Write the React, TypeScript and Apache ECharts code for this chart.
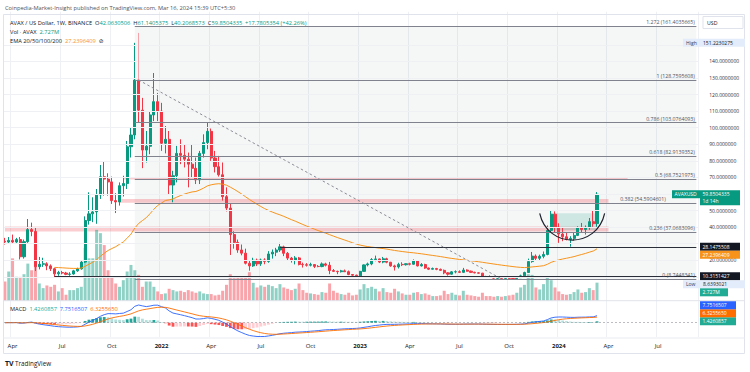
import React, { useEffect, useRef } from 'react';
import * as echarts from 'echarts';

const UP = '#089981';
const DOWN = '#f23645';
const FONT = '"Open Sans", "Noto Sans", "DejaVu Sans", sans-serif';

// weekly slots on the time scale (first visible weekly bar and slot count up to Sep 2024)
const FIRST_WEEK_UTC = [2021, 2, 22];
const WEEK_SLOTS = 182;

// [open, high, low, close] weekly candles, AVAX/USD from 2021-03-22 to 2024-03-11
const CANDLES: number[][] = [
  [31.5, 33.5, 29.5, 31.0], [31.0, 34.0, 30.0, 32.0], [32.0, 35.5, 29.8, 31.0], [31.0, 33.5, 30.0, 32.5],
  [32.5, 34.0, 20.5, 22.1], [22.1, 32.5, 21.0, 31.2], [31.2, 44.9, 30.5, 38.5], [38.5, 42.7, 34.5, 37.4],
  [37.4, 39.5, 13.5, 16.1], [16.1, 22.0, 14.5, 17.6], [17.6, 21.5, 16.0, 17.9], [17.9, 18.8, 14.0, 16.6],
  [16.6, 17.5, 13.5, 14.9], [14.9, 15.5, 9.6, 11.8], [11.8, 13.6, 10.6, 12.6], [12.6, 13.6, 11.5, 12.3],
  [12.3, 13.0, 11.0, 11.5], [11.5, 12.8, 10.6, 11.7], [11.7, 14.2, 11.3, 13.6], [13.6, 15.5, 13.0, 14.8],
  [14.8, 20.0, 14.3, 18.9], [18.9, 46.5, 18.4, 44.0], [44.0, 61.0, 41.5, 48.0], [48.0, 58.0, 43.0, 49.2],
  [49.2, 63.0, 42.0, 59.4], [59.4, 77.5, 57.0, 70.4], [70.4, 79.5, 59.0, 69.0], [69.0, 72.5, 59.0, 67.3],
  [67.3, 70.5, 54.0, 56.0], [56.0, 60.5, 48.5, 55.2], [55.2, 67.0, 53.0, 65.0], [65.0, 71.0, 58.5, 66.3],
  [66.3, 92.0, 63.0, 88.5], [88.5, 100.0, 82.0, 95.6], [95.6, 151.22, 93.0, 128.76], [128.76, 138.0, 103.0, 110.6],
  [110.6, 118.0, 75.6, 86.5], [86.5, 98.0, 79.0, 88.8], [88.8, 110.0, 84.0, 107.7], [107.7, 133.0, 104.0, 115.7],
  [115.7, 121.0, 104.0, 110.0], [110.0, 115.0, 86.0, 90.6], [90.6, 101.0, 84.5, 93.0], [93.0, 98.0, 60.0, 65.4],
  [65.4, 74.0, 55.0, 71.0], [71.0, 89.0, 67.0, 84.5], [84.5, 93.0, 78.0, 83.3], [83.3, 90.0, 76.0, 81.0],
  [81.0, 85.0, 64.0, 78.0], [78.0, 90.0, 70.0, 75.5], [75.5, 82.0, 66.0, 68.5], [68.5, 86.0, 66.0, 84.5],
  [84.5, 96.0, 82.0, 91.0], [91.0, 103.0, 87.0, 97.8], [97.8, 99.5, 80.0, 81.7], [81.7, 86.0, 73.0, 76.5],
  [76.5, 83.0, 70.5, 71.6], [71.6, 79.0, 56.0, 58.4], [58.4, 64.0, 49.5, 51.5], [51.5, 54.0, 23.2, 35.5],
  [35.5, 37.5, 27.0, 30.8], [30.8, 32.5, 24.5, 26.2], [26.2, 29.5, 23.0, 24.3], [24.3, 27.0, 17.5, 18.2],
  [18.2, 19.8, 13.7, 16.6], [16.6, 21.5, 16.0, 20.0], [20.0, 21.0, 16.5, 17.8], [17.8, 21.0, 16.6, 20.2],
  [20.2, 21.2, 17.6, 19.3], [19.3, 25.5, 18.5, 23.8], [23.8, 26.5, 21.0, 24.9], [24.9, 27.5, 22.5, 26.2],
  [26.2, 30.5, 25.0, 28.1], [28.1, 28.8, 22.5, 24.2], [24.2, 25.0, 20.0, 21.3], [21.3, 22.0, 18.6, 20.0],
  [20.0, 22.5, 17.5, 21.4], [21.4, 22.0, 16.9, 17.5], [17.5, 18.6, 15.6, 17.3], [17.3, 18.3, 16.2, 17.0],
  [17.0, 18.5, 16.3, 17.4], [17.4, 17.7, 15.3, 16.3], [16.3, 17.1, 15.8, 16.2], [16.2, 18.7, 15.8, 17.8],
  [17.8, 18.5, 16.3, 17.0], [17.0, 19.0, 11.6, 13.8], [13.8, 14.7, 12.9, 13.3], [13.3, 13.7, 11.6, 13.1],
  [13.1, 14.2, 12.6, 13.6], [13.6, 14.4, 12.9, 13.1], [13.1, 13.8, 11.0, 11.4], [11.4, 11.7, 10.6, 11.0],
  [11.0, 11.3, 10.2, 10.6], [10.6, 13.6, 10.4, 13.3], [13.3, 17.5, 13.0, 17.2], [17.2, 18.6, 16.3, 17.8],
  [17.8, 21.3, 17.0, 20.4], [20.4, 22.8, 19.4, 20.8], [20.8, 21.0, 18.3, 18.9], [18.9, 22.0, 18.2, 20.9],
  [20.9, 21.5, 18.2, 18.8], [18.8, 19.0, 16.1, 16.6], [16.6, 17.3, 13.8, 16.0], [16.0, 18.5, 15.0, 17.5],
  [17.5, 18.8, 16.5, 17.3], [17.3, 18.2, 16.8, 17.9], [17.9, 18.5, 16.9, 17.6], [17.6, 20.5, 17.3, 19.6],
  [19.6, 20.1, 16.3, 16.6], [16.6, 18.3, 16.2, 17.4], [17.4, 17.9, 14.8, 15.3], [15.3, 15.6, 14.1, 14.6],
  [14.6, 15.6, 14.4, 15.0], [15.0, 15.4, 14.0, 14.5], [14.5, 15.0, 13.6, 13.9], [13.9, 14.4, 11.6, 12.4],
  [12.4, 12.8, 10.7, 11.6], [11.6, 13.5, 11.4, 13.0], [13.0, 13.9, 12.1, 13.1], [13.1, 13.9, 12.3, 12.7],
  [12.7, 15.4, 12.3, 14.1], [14.1, 14.5, 13.1, 13.4], [13.4, 13.8, 12.3, 12.7], [12.7, 13.1, 12.1, 12.4],
  [12.4, 12.8, 12.0, 12.2], [12.2, 12.4, 9.9, 10.2], [10.2, 10.6, 9.8, 10.0], [10.0, 10.9, 9.5, 9.6],
  [9.6, 9.8, 8.9, 9.2], [9.2, 9.5, 8.7, 9.3], [9.3, 9.6, 8.9, 9.1], [9.1, 9.7, 8.9, 9.4],
  [9.4, 9.6, 8.9, 9.1], [9.1, 9.3, 8.64, 8.9], [8.9, 9.9, 8.8, 9.5], [9.5, 11.3, 9.3, 10.6],
  [10.6, 13.1, 10.2, 12.6], [12.6, 21.0, 12.4, 19.2], [19.2, 25.0, 18.5, 22.5], [22.5, 23.5, 19.6, 21.2],
  [21.2, 23.4, 20.0, 22.4], [22.4, 25.3, 21.2, 23.5], [23.5, 41.0, 23.0, 38.0], [38.0, 50.0, 37.0, 47.8],
  [47.8, 49.5, 36.5, 40.0], [40.0, 42.3, 30.5, 35.8], [35.8, 39.5, 31.5, 34.2], [34.2, 37.0, 32.0, 32.6],
  [32.6, 34.5, 28.2, 33.2], [33.2, 36.5, 31.8, 35.0], [35.0, 40.5, 34.6, 39.5], [39.5, 42.5, 36.5, 38.6],
  [38.6, 41.0, 35.5, 39.8], [39.8, 45.5, 38.4, 43.3], [43.3, 50.2, 40.2, 42.06],
  [42.0630506, 61.1405375, 40.2068573, 59.8504335],
];

// weekly volume, millions of AVAX
const VOLUME_M: number[] = [
  2.9, 4.4, 6.4, 3.6, 3.6, 4.0, 5.6, 4.6, 6.1, 2.6,
  1.9, 2.3, 2.1, 2.4, 1.4, 1.9, 0.9, 1.6, 1.6, 1.9,
  2.1, 8.0, 6.4, 6.4, 10.7, 10.2, 8.4, 4.6, 3.6, 2.6,
  2.1, 3.1, 4.4, 5.4, 4.6, 3.9, 2.1, 2.9, 2.9, 2.1,
  1.4, 1.0, 1.1, 1.8, 1.6, 1.4, 1.5, 1.3, 1.6, 1.4,
  1.2, 1.4, 1.1, 1.0, 1.0, 0.8, 0.9, 1.5, 2.4, 4.0,
  3.4, 3.5, 3.6, 3.7, 4.3, 2.7, 2.0, 2.3, 2.1, 2.4,
  2.2, 1.9, 2.5, 2.0, 1.8, 1.6, 1.8, 2.6, 1.6, 1.2,
  1.1, 1.0, 0.9, 1.3, 1.2, 2.6, 1.5, 1.2, 1.0, 0.9,
  1.2, 0.8, 0.9, 1.7, 2.5, 1.9, 2.1, 1.8, 1.4, 1.9,
  1.3, 1.2, 1.8, 1.4, 1.1, 0.9, 0.9, 1.2, 1.3, 1.0,
  1.1, 0.9, 0.7, 0.7, 0.8, 1.5, 1.0, 1.2, 0.9, 0.8,
  1.5, 0.9, 0.8, 0.7, 0.6, 1.2, 0.7, 0.7, 0.6, 0.7,
  0.6, 0.7, 0.8, 0.9, 1.2, 2.0, 2.4, 4.0, 3.9, 2.0,
  1.7, 2.5, 3.7, 3.1, 2.0, 1.4, 1.0, 0.9, 1.0, 1.3,
  1.7, 1.2, 1.3, 1.9, 1.6, 2.727,
];

// time-scale tick labels: [week start date, label]
const TICK_LABELS: [string, string][] = [
  ['2021-04-05', 'Apr'], ['2021-07-05', 'Jul'], ['2021-10-04', 'Oct'], ['2022-01-03', '2022'],
  ['2022-04-04', 'Apr'], ['2022-07-04', 'Jul'], ['2022-10-03', 'Oct'], ['2023-01-02', '2023'],
  ['2023-04-03', 'Apr'], ['2023-07-03', 'Jul'], ['2023-10-02', 'Oct'], ['2024-01-01', '2024'],
  ['2024-04-01', 'Apr'], ['2024-07-01', 'Jul'],
];

// price grid levels and the price-scale labels left visible (others sit under tags)
const PRICE_GRID = [10, 20, 30, 40, 50, 60, 70, 80, 90, 100, 110, 120, 130, 140, 150];
const PRICE_LABELS = [20, 40, 50, 70, 80, 90, 100, 110, 120, 130, 140];

// Fibonacci retracement drawn from the Nov-2021 top to the Oct-2023 low
const FIB_LEVELS: [string, number][] = [
  ['1.272', 161.4035665], ['1', 128.7595608], ['0.786', 103.0764093], ['0.618', 82.9139352],
  ['0.5', 68.7521975], ['0.382', 54.5904601], ['0.236', 37.0683096], ['0', 8.7448341],
];
const FIB_WEEKS = [34, 181];
const FIB_TREND: [number, number][] = [[35, 128.7595608], [130, 8.7448341]];
const TOP_MARK: [number, number][] = [[35, 157.2], [35, 129.0]];

// horizontal support / resistance zones: [fromWeek, toWeek, low, high]
const ZONES: number[][] = [
  [31, 163, 68.8, 70.3],
  [30, 158, 54.7, 57.0],
  [0, 158, 37.4, 40.4],
];
// horizontal price lines: [fromWeek, price]
const LEVELS: number[][] = [[72, 28.1475508], [13, 10.3151427]];

// cup pattern drawing
const CUP_BOX = [143, 155, 38.3, 48.4];
const CUP_ARC = { from: 140, to: 157, mid: 148, rim: 48.3, bottom: 32.2 };

// indicator settings and legend values
const EMA_PERIOD = 50;
const EMA_START = 13;
const EMA_SEED = 15.7;
const EMA_LAST_TEXT = '27.2396409';
const EMA_LAST = 27.2396409;
const MACD_TEXT = { hist: '1.4260857', macd: '7.7516507', signal: '6.3255650' };
const LAST_PRICE = 59.8504335;
const HIGH_PRICE = 151.2230275;
const LOW_PRICE = 8.6393021;
const LAST_VOL_M = 2.727;

const CAT_W = 3.82;
const LEFT = 3;
const PLOT_W = WEEK_SLOTS * CAT_W;

function buildWeeks(): string[] {
  const t0 = Date.UTC(FIRST_WEEK_UTC[0], FIRST_WEEK_UTC[1], FIRST_WEEK_UTC[2]);
  const out: string[] = [];
  for (let i = 0; i < WEEK_SLOTS; i++) out.push(new Date(t0 + i * 7 * 86400000).toISOString().slice(0, 10));
  return out;
}

function computeIndicators() {
  const closes = CANDLES.map((c) => c[3]);
  const a = 2 / (EMA_PERIOD + 1);
  const ema: any[] = closes.map(() => '-');
  let e = EMA_SEED;
  for (let i = EMA_START; i < closes.length; i++) {
    e = i === EMA_START ? EMA_SEED : a * closes[i] + (1 - a) * e;
    ema[i] = e;
  }
  const a12 = 2 / 13, a26 = 2 / 27, a9 = 2 / 10;
  let e12 = closes[0], e26 = closes[0], sig = 0;
  const macd: number[] = [], signal: number[] = [], hist: number[] = [];
  for (let i = 0; i < closes.length; i++) {
    if (i > 0) {
      e12 = a12 * closes[i] + (1 - a12) * e12;
      e26 = a26 * closes[i] + (1 - a26) * e26;
    }
    const m = e12 - e26;
    sig = i === 0 ? m : a9 * m + (1 - a9) * sig;
    macd.push(m);
    signal.push(sig);
    hist.push(m - sig);
  }
  return { ema, macd, signal, hist };
}

function buildOption(weeks: string[], ind: any, macdRange: number[]) {
  const tickIdx = new Map<number, string>();
  TICK_LABELS.forEach(([d, l]) => {
    const k = weeks.indexOf(d);
    if (k >= 0) tickIdx.set(k, l);
  });
  const isTick = (i: number) => tickIdx.has(i);
  const baseX = (gridIndex: number) => ({
    type: 'category', gridIndex, data: weeks, boundaryGap: true,
    axisLine: { show: false }, axisTick: { show: false }, axisLabel: { show: false },
    splitLine: { show: false },
  });
  const vgrid = { show: true, interval: (i: number) => isTick(i), lineStyle: { color: '#eef0f4', width: 1 } };

  const fibLines = FIB_LEVELS.map(([lvl, p]) => [
    {
      coord: [FIB_WEEKS[0], p],
      lineStyle: { color: '#80838d', width: 1, type: 'solid' },
      label: {
        show: true, position: 'insideEndTop', distance: 1.5, formatter: `${lvl} (${p.toFixed(7)})`,
        fontSize: 5.2, color: '#50535e', fontFamily: FONT,
        // the 0.382 caption is moved left of the last-price tag
        padding: lvl === '0.382' ? [0, 29, 0, 0] : 0,
      },
    },
    { coord: [FIB_WEEKS[1], p] },
  ]);
  const levelLines = LEVELS.map(([w, p]) => [
    { coord: [w, p], lineStyle: { color: '#2a2e39', width: 1.1, type: 'solid' }, label: { show: false } },
    { coord: [FIB_WEEKS[1], p] },
  ]);
  const gridLines = PRICE_GRID.map((v) => ({ yAxis: v, lineStyle: { color: '#eef0f4', width: 1, type: 'solid' }, label: { show: false } }));

  const candleData = CANDLES.map(([o, h, l, c]) => [o, c, l, h]);
  const volData = VOLUME_M.map((v, i) => ({
    value: v,
    itemStyle: { color: CANDLES[i][3] >= CANDLES[i][0] ? 'rgba(8,153,129,0.45)' : 'rgba(242,54,69,0.45)' },
  }));
  const histData = ind.hist.map((h: number, i: number) => {
    const prev = i > 0 ? ind.hist[i - 1] : 0;
    const color = h >= 0 ? (h > prev ? '#26a69a' : '#b2dfdb') : (h > prev ? '#ffcdd2' : '#ff5252');
    return { value: h, itemStyle: { color } };
  });

  return {
    animation: false,
    backgroundColor: '#ffffff',
    grid: [
      { left: LEFT, width: PLOT_W, top: 11.71, height: 298.26 },
      { left: LEFT, width: PLOT_W, top: 210.7, height: 90 },
      { left: LEFT, width: PLOT_W, top: 301, height: 36 },
    ],
    xAxis: [
      { ...baseX(0), splitLine: vgrid },
      { ...baseX(1) },
      {
        ...baseX(2),
        splitLine: vgrid,
        axisLabel: {
          show: true, interval: (i: number) => isTick(i), margin: 6,
          fontSize: 6, color: '#131722', fontFamily: FONT,
          formatter: (_v: string, i: number) => {
            const t = tickIdx.get(i) || '';
            return /^\d{4}$/.test(t) ? `{y|${t}}` : t;
          },
          rich: { y: { fontWeight: 'bold', fontSize: 6, color: '#131722', fontFamily: FONT } },
        },
      },
    ],
    yAxis: [
      {
        type: 'value', gridIndex: 0, position: 'right', min: -10, max: 170, interval: 10,
        axisLine: { show: false }, axisTick: { show: false }, splitLine: { show: false },
        axisLabel: {
          show: true, margin: 11, fontSize: 5, color: '#2a2e39', fontFamily: FONT,
          formatter: (v: number) => (PRICE_LABELS.indexOf(Math.round(v)) >= 0 ? v.toFixed(7) : ''),
        },
      },
      { type: 'value', gridIndex: 1, min: 0, max: 13.59, show: false },
      { type: 'value', gridIndex: 2, min: macdRange[0], max: macdRange[1], show: false },
    ],
    series: [
      {
        name: 'areas', type: 'line', xAxisIndex: 0, yAxisIndex: 0, data: [], z: 0, silent: true,
        markArea: {
          silent: true,
          data: [
            [{ xAxis: FIB_WEEKS[0], yAxis: FIB_LEVELS[7][1], itemStyle: { color: 'rgba(120,123,134,0.07)' } },
              { xAxis: FIB_WEEKS[1], yAxis: FIB_LEVELS[0][1] }],
            ...ZONES.map(([f, t, lo, hi]) => [
              { xAxis: f, yAxis: lo, itemStyle: { color: 'rgba(242,54,69,0.25)' } },
              { xAxis: t, yAxis: hi },
            ]),
            [{ xAxis: CUP_BOX[0], yAxis: CUP_BOX[2], itemStyle: { color: 'rgba(8,153,129,0.16)' } },
              { xAxis: CUP_BOX[1], yAxis: CUP_BOX[3] }],
          ],
        },
      },
      {
        name: 'volume', type: 'bar', xAxisIndex: 1, yAxisIndex: 1, data: volData, barWidth: 3, z: 1, silent: true,
      },
      {
        name: 'lines', type: 'line', xAxisIndex: 0, yAxisIndex: 0, data: [], z: 2, silent: true,
        markLine: {
          silent: true, symbol: ['none', 'none'], animation: false,
          data: [
            ...gridLines,
            ...fibLines,
            ...levelLines,
            [{ coord: FIB_TREND[0], lineStyle: { color: '#8a8d96', width: 1, type: [2.5, 2.5] }, label: { show: false } },
              { coord: FIB_TREND[1] }],
            [{ coord: TOP_MARK[0], lineStyle: { color: '#f5a3aa', width: 1, type: 'solid' }, label: { show: false } },
              { coord: TOP_MARK[1] }],
          ],
        },
      },
      {
        name: 'AVAXUSD', type: 'candlestick', xAxisIndex: 0, yAxisIndex: 0, data: candleData, barWidth: 2.6, z: 3,
        itemStyle: { color: UP, color0: DOWN, borderColor: UP, borderColor0: DOWN, borderWidth: 1 },
      },
      {
        name: 'EMA', type: 'line', xAxisIndex: 0, yAxisIndex: 0, data: ind.ema, z: 4, showSymbol: false,
        symbol: 'none', lineStyle: { color: '#f7931a', width: 1 }, silent: true,
      },
      {
        name: 'Histogram', type: 'bar', xAxisIndex: 2, yAxisIndex: 2, data: histData, barWidth: 2.8, z: 1, silent: true,
      },
      {
        name: 'MACD', type: 'line', xAxisIndex: 2, yAxisIndex: 2, data: ind.macd, z: 2, symbol: 'none',
        lineStyle: { color: '#2962ff', width: 0.9 }, silent: true,
        markLine: {
          silent: true, symbol: ['none', 'none'],
          data: [{ yAxis: 0, lineStyle: { color: 'rgba(120,123,134,0.5)', type: [2, 2], width: 1 }, label: { show: false } }],
        },
      },
      {
        name: 'Signal', type: 'line', xAxisIndex: 2, yAxisIndex: 2, data: ind.signal, z: 2, symbol: 'none',
        lineStyle: { color: '#ff6d00', width: 0.9 }, silent: true,
      },
    ],
  };
}

function buildGraphic(chart: any, ind: any) {
  const P = (g: number, x: number, y: number) => chart.convertToPixel({ gridIndex: g }, [x, y]);
  const els: any[] = [];
  const text = (x: number, y: number, t: string, extra: any = {}) => ({
    type: 'text', x, y, z: 120, silent: true,
    style: { text: t, fill: '#131722', fontSize: 5.7, fontFamily: FONT, verticalAlign: 'middle', ...extra },
  });
  const tag = (x: number, yc: number, t: string, bg: string, w?: number, fg = '#ffffff') => [
    { type: 'rect', z: 110, silent: true, shape: { x, y: yc - 4, width: w ?? t.length * 3.05 + 6, height: 8 }, style: { fill: bg } },
    text(x + 2.5, yc, t, { fill: fg, fontSize: 5 }),
  ];

  // frame and pane separators
  els.push({ type: 'rect', z: 90, silent: true, shape: { x: 3.5, y: 14.5, width: 741, height: 339 }, style: { fill: 'none', stroke: '#e0e3eb', lineWidth: 1 } });
  els.push({ type: 'line', z: 90, silent: true, shape: { x1: 3.5, y1: 300.7, x2: 744.5, y2: 300.7 }, style: { stroke: '#e0e3eb', lineWidth: 1 } });
  els.push({ type: 'line', z: 90, silent: true, shape: { x1: 3.5, y1: 338, x2: 744.5, y2: 338 }, style: { stroke: '#e9ebf0', lineWidth: 1 } });

  // header and legends
  els.push(text(5, 8, 'Coinpedia-Market-Insight published on TradingView.com, Mar 16, 2024 15:39 UTC+5:30', { fill: '#50535e' }));
  els.push(text(10, 22.7, '{t|AVAX / US Dollar, 1W, BINANCE}  {t|O}{v|42.0630506}  {t|H}{v|61.1405375}  {t|L}{v|40.2068573}  {t|C}{v|59.8504335}  {v|+17.7805354 (+42.26%)}', {
    rich: { t: { fill: '#131722', fontSize: 5.7, fontFamily: FONT }, v: { fill: UP, fontSize: 5.7, fontFamily: FONT } },
  }));
  els.push(text(10, 31.7, '{t|Vol · AVAX}  {v|2.727M}', {
    rich: { t: { fill: '#131722', fontSize: 5.7, fontFamily: FONT }, v: { fill: UP, fontSize: 5.7, fontFamily: FONT } },
  }));
  els.push(text(10, 40.7, `{t|EMA 20/50/100/200}  {o|${EMA_LAST_TEXT}}  {t|⊘}`, {
    rich: { t: { fill: '#131722', fontSize: 5.7, fontFamily: FONT }, o: { fill: '#f7931a', fontSize: 5.7, fontFamily: FONT } },
  }));
  els.push(text(10, 309, `{t|MACD}  {g|${MACD_TEXT.hist}}  {b|${MACD_TEXT.macd}}  {o|${MACD_TEXT.signal}}`, {
    rich: {
      t: { fill: '#131722', fontSize: 5.7, fontFamily: FONT }, g: { fill: '#22ab94', fontSize: 5.7, fontFamily: FONT },
      b: { fill: '#2962ff', fontSize: 5.7, fontFamily: FONT }, o: { fill: '#ff6d00', fontSize: 5.7, fontFamily: FONT },
    },
  }));
  els.push(text(5, 363, '{b|TV} {t|TradingView}', {
    rich: { b: { fill: '#131722', fontSize: 7, fontWeight: 'bold', fontFamily: FONT }, t: { fill: '#131722', fontSize: 6.3, fontFamily: FONT } },
  }));

  // cup arc
  const last = CANDLES.length - 1;
  const s = P(0, CUP_ARC.from, CUP_ARC.rim);
  const e = P(0, CUP_ARC.to, CUP_ARC.rim);
  const b = P(0, CUP_ARC.mid, CUP_ARC.bottom);
  const cy = s[1] + (b[1] - s[1]) * 4 / 3;
  const dx = (e[0] - s[0]) * 0.12;
  els.push({
    type: 'bezierCurve', z: 50, silent: true,
    shape: { x1: s[0], y1: s[1], x2: e[0], y2: e[1], cpx1: s[0] + dx, cpy1: cy, cpx2: e[0] - dx, cpy2: cy },
    style: { stroke: '#1e222d', lineWidth: 1.2, fill: 'none' },
  });

  // price scale: USD box
  els.push({ type: 'rect', z: 110, silent: true, shape: { x: 703, y: 16.5, width: 40, height: 12 }, style: { fill: '#ffffff', stroke: '#e0e3eb', lineWidth: 1 } });
  els.push(text(707, 22.5, 'USD', { fontSize: 5.2 }));

  // High / Low markers
  const hiY = P(0, last, HIGH_PRICE)[1];
  els.push({ type: 'rect', z: 110, silent: true, shape: { x: 683, y: hiY - 4, width: 62, height: 8 }, style: { fill: '#e3ecfa' } });
  els.push(text(686, hiY, 'High', { fontSize: 5, fill: '#2a3f6b' }));
  els.push(text(703, hiY, HIGH_PRICE.toFixed(7), { fontSize: 5, fill: '#131722' }));

  // last price tag
  const lpY = P(0, last, LAST_PRICE)[1];
  els.push(...tag(672, lpY, 'AVAXUSD', UP, 28));
  els.push({ type: 'rect', z: 110, silent: true, shape: { x: 700, y: lpY - 4, width: 40, height: 15 }, style: { fill: UP } });
  els.push(text(702.5, lpY, LAST_PRICE.toFixed(7), { fill: '#fff', fontSize: 5 }));
  els.push(text(702.5, lpY + 6.8, '1d 14h', { fill: '#fff', fontSize: 5 }));

  // stacked tags in price pane (pushed downward)
  const lowTag = { y: P(0, last, LOW_PRICE)[1], kind: 'low' };
  const stack: any[] = [
    { y: P(0, last, LEVELS[0][1])[1], t: LEVELS[0][1].toFixed(7), bg: '#131722' },
    { y: P(0, last, EMA_LAST)[1], t: EMA_LAST_TEXT, bg: '#f7931a' },
    { y: P(0, last, LEVELS[1][1])[1], t: LEVELS[1][1].toFixed(7), bg: '#131722' },
    lowTag,
    { y: P(1, last, LAST_VOL_M)[1], t: `${LAST_VOL_M}M`, bg: '#22ab94', w: 28 },
  ].sort((a, b2) => a.y - b2.y);
  let bottom = -Infinity;
  stack.forEach((tg) => {
    const top = Math.max(tg.y - 4, bottom);
    const yc = top + 4;
    bottom = top + 8;
    if (tg.kind === 'low') {
      els.push({ type: 'rect', z: 110, silent: true, shape: { x: 683, y: top, width: 62, height: 8 }, style: { fill: '#e3ecfa' } });
      els.push(text(686, yc, 'Low', { fontSize: 5, fill: '#2a3f6b' }));
      els.push(text(703, yc, LOW_PRICE.toFixed(7), { fontSize: 5, fill: '#131722' }));
    } else {
      els.push(...tag(700, yc, tg.t, tg.bg, tg.w ?? 40));
    }
  });

  // MACD pane tags (pushed upward)
  const mstack = [
    { y: P(2, last, ind.hist[last])[1], t: MACD_TEXT.hist, bg: '#22ab94' },
    { y: P(2, last, ind.signal[last])[1], t: MACD_TEXT.signal, bg: '#ff6d00' },
    { y: P(2, last, ind.macd[last])[1], t: MACD_TEXT.macd, bg: '#2962ff' },
  ];
  let topLimit = 330;
  mstack.forEach((tg) => {
    const b2 = Math.min(tg.y + 4, topLimit);
    const yc = b2 - 4;
    topLimit = b2 - 8;
    els.push(...tag(700, yc, tg.t, tg.bg, 36));
  });

  return els;
}

export default function App() {
  const ref = useRef<HTMLDivElement>(null);
  useEffect(() => {
    const el = ref.current;
    if (!el) return;
    const chart = echarts.init(el, undefined, { renderer: 'svg', width: 750, height: 372 });
    const weeks = buildWeeks();
    const ind = computeIndicators();
    const peak = Math.max(...ind.macd, ...ind.signal);
    const trough = Math.abs(Math.min(...ind.macd, ...ind.signal, ...ind.hist));
    const scale = Math.min(17.7 / peak, 14.0 / trough);
    const macdRange = [-14.3 / scale, 21.7 / scale];
    chart.setOption(buildOption(weeks, ind, macdRange));
    chart.setOption({ graphic: buildGraphic(chart, ind) });
    return () => chart.dispose();
  }, []);
  return <div ref={ref} style={{ position: 'fixed', left: 0, top: 0, width: 750, height: 372, background: '#fff' }} />;
}
